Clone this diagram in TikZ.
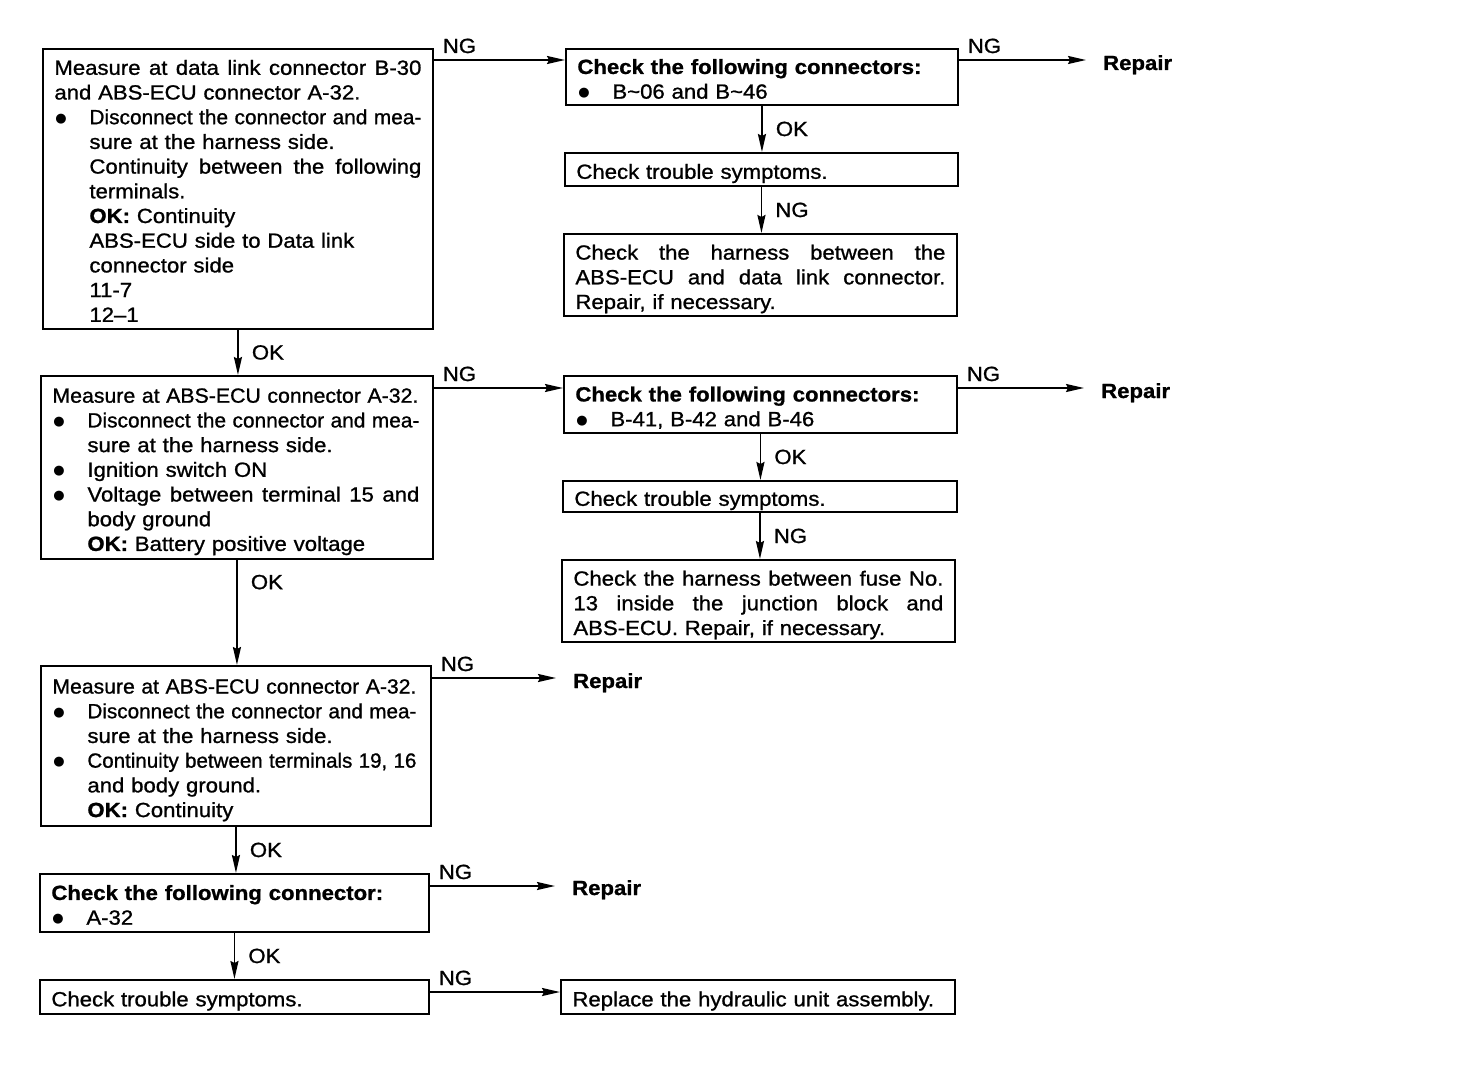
\documentclass[tikz,border=0pt]{standalone}
\usepackage{fontspec}
\setmainfont{Liberation Sans}[FakeStretch=1.08, FakeBold=1]
\newfontfamily\dejavu{DejaVu Sans}
\usepackage{graphicx}
\usetikzlibrary{arrows.meta}
\newcommand\bxfont{\fontsize{20.5}{24.7}\selectfont}
\newcommand\Lstrut{\rule[-6pt]{0pt}{23pt}}
\newcommand\Bul{{\fontsize{13}{13}\dejavu\raisebox{2pt}{●}}}
\newcommand\Ln[1]{\par\noindent\Lstrut#1}
\newcommand\In[1]{\par\noindent\Lstrut\hspace*{35pt}#1}
\newcommand\Bu[1]{\par\noindent\Lstrut\makebox[35pt][l]{\hspace*{1pt}\Bul}#1}
\newcommand\J[2]{{\spaceskip=\fontdimen2\font plus 1fil\relax\makebox[#1][s]{#2}}}
\newcommand\Sq[2]{\resizebox{#1}{\height}{#2}}
\begin{document}
\begin{tikzpicture}[x=1pt,y=-1pt,
  box/.style={draw, line width=1.9pt, anchor=north west, inner xsep=11.5pt, inner ysep=0pt, font=\bxfont},
  lbl/.style={inner sep=0pt, font=\bxfont},
  arr/.style={line width=1.9pt, -{Stealth[length=18pt,width=8pt,inset=2pt]}},
  ng/.style={lbl, pos=0, anchor=base west, xshift=8pt, yshift=7pt},
  ok/.style={lbl, midway, anchor=west, xshift=13pt},
  rep/.style={inner sep=0pt, anchor=base west, font=\bxfont\bfseries},
  torep/.style={arr, shorten >=17pt}
]
\useasboundingbox (0,0) rectangle (1472,1086);

% left column
\node[box, text width=367pt, minimum height=280pt] (B1) at (42,48) {%
\Ln{\J{367pt}{Measure at data link connector B-30}}
\Ln{and ABS-ECU connector A-32.}
\Bu{\Sq{332pt}{Disconnect the connector and mea-}}
\In{sure at the harness side.}
\In{\J{332pt}{Continuity between the following}}
\In{terminals.}
\In{\textbf{OK:} Continuity}
\In{ABS-ECU side to Data link}
\In{connector side}
\In{11-7}
\In{12--1}};

\node[box, text width=369pt, minimum height=183pt] (B5) at (40,375) {%
\Ln{\Sq{366pt}{Measure at ABS-ECU connector A-32.}}
\Bu{\Sq{332pt}{Disconnect the connector and mea-}}
\In{sure at the harness side.}
\Bu{Ignition switch ON}
\Bu{\J{332pt}{Voltage between terminal 15 and}}
\In{body ground}
\In{\textbf{OK:} Battery positive voltage}};

\node[box, text width=367pt, minimum height=160pt] (B9) at (40,665) {%
\Ln{\Sq{364pt}{Measure at ABS-ECU connector A-32.}}
\Bu{\Sq{329pt}{Disconnect the connector and mea-}}
\In{sure at the harness side.}
\Bu{\Sq{329pt}{Continuity between terminals 19, 16}}
\In{and body ground.}
\In{\textbf{OK:} Continuity}};

\node[box, text width=366pt, minimum height=58pt] (B10) at (39,873) {%
\Ln{\textbf{Check the following connector:}}
\Bu{A-32}};

\node[box, text width=366pt, minimum height=34pt] (B11) at (39,979) {%
\Ln{Check trouble symptoms.}};

% right column
\node[box, text width=369pt, minimum height=56pt] (B2) at (565,48) {%
\Ln{\textbf{Check the following connectors:}}
\Bu{B\textasciitilde06 and B\textasciitilde46}};

\node[box, text width=370pt, minimum height=33pt] (B3) at (564,152) {%
\Ln{Check trouble symptoms.}};

\node[box, text width=370pt, minimum height=82pt] (B4) at (563,233) {%
\Ln{\J{370pt}{Check the harness between the}}
\Ln{\J{370pt}{ABS-ECU and data link connector.}}
\Ln{Repair, if necessary.}};

\node[box, text width=370pt, minimum height=57pt] (B6) at (563,375) {%
\Ln{\textbf{Check the following connectors:}}
\Bu{B-41, B-42 and B-46}};

\node[box, text width=371pt, minimum height=31pt] (B7) at (562,480) {%
\Ln{Check trouble symptoms.}};

\node[box, text width=370pt, minimum height=82pt] (B8) at (561,559) {%
\Ln{\J{370pt}{Check the harness between fuse No.}}
\Ln{\J{370pt}{13 inside the junction block and}}
\Ln{ABS-ECU. Repair, if necessary.}};

\node[box, text width=371pt, minimum height=34pt] (B12) at (560,979) {%
\Ln{Replace the hydraulic unit assembly.}};

% repair labels
\node[rep] (R1) at (1103,70) {Repair};
\node[rep] (R2) at (1101,398) {Repair};
\node[rep] (R3) at (573,688) {Repair};
\node[rep] (R4) at (572,895) {Repair};

% connectors
\draw[arr] (B1.east |- 0,60) -- node[ng]{NG} (B2.west |- 0,60);
\draw[torep] (B2.east |- 0,60) -- node[ng]{NG} (R1.west |- 0,60);
\draw[arr] (B2.south) -- node[ok]{OK} (B2.south |- B3.north);
\draw[arr] (B3.south) -- node[ok]{NG} (B3.south |- B4.north);
\draw[arr] (B1.south) -- node[ok]{OK} (B1.south |- B5.north);
\draw[arr] (B5.east |- 0,388) -- node[ng]{NG} (B6.west |- 0,388);
\draw[torep] (B6.east |- 0,388) -- node[ng]{NG} (R2.west |- 0,388);
\draw[arr] (B6.south) -- node[ok]{OK} (B6.south |- B7.north);
\draw[arr] (B7.south) -- node[ok]{NG} (B7.south |- B8.north);
\draw[arr] (B5.south) -- node[lbl, pos=0, anchor=north west, xshift=13pt, yshift=-14pt]{OK} (B5.south |- B9.north);
\draw[torep] (B9.east |- 0,678) -- node[ng]{NG} (R3.west |- 0,678);
\draw[arr] (B9.south) -- node[ok]{OK} (B9.south |- B10.north);
\draw[torep] (B10.east |- 0,886) -- node[ng]{NG} (R4.west |- 0,886);
\draw[arr] (B10.south) -- node[ok]{OK} (B10.south |- B11.north);
\draw[arr] (B11.east |- 0,992) -- node[ng]{NG} (B12.west |- 0,992);
\end{tikzpicture}
\end{document}
